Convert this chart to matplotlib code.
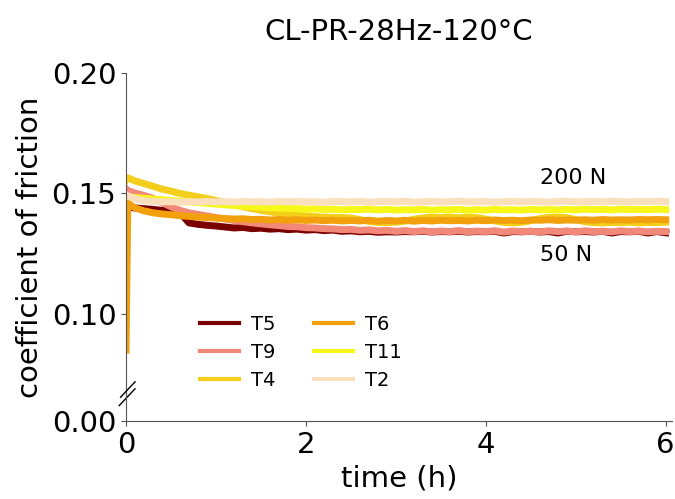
import matplotlib
matplotlib.use('Agg')
import matplotlib.pyplot as plt
from matplotlib.ticker import FormatStrFormatter

# time axis (hours), same for all runs
time_h = [0.0, 0.02, 0.1, 0.2, 0.3, 0.4, 0.5, 0.6, 0.7, 0.8,
          0.9, 1.0, 1.1, 1.2, 1.3, 1.4, 1.5, 1.6, 1.7, 1.8,
          1.9, 2.0, 2.1, 2.2, 2.3, 2.4, 2.5, 2.6, 2.7, 2.8,
          2.9, 3.0, 3.1, 3.2, 3.3, 3.4, 3.5, 3.6, 3.7, 3.8,
          3.9, 4.0, 4.1, 4.2, 4.3, 4.4, 4.5, 4.6, 4.7, 4.8,
          4.9, 5.0, 5.1, 5.2, 5.3, 5.4, 5.5, 5.6, 5.7, 5.8,
          5.9, 6.0]

cof_T5 = [0.1445, 0.1443, 0.1440, 0.1437, 0.1434, 0.1430, 0.1427, 0.1420, 0.1378, 0.1372,
          0.1368, 0.1365, 0.1361, 0.1357, 0.1359, 0.1354, 0.1356, 0.1352, 0.1354, 0.1350,
          0.1352, 0.1348, 0.1350, 0.1346, 0.1348, 0.1343, 0.1345, 0.1341, 0.1343, 0.1339,
          0.1341, 0.1340, 0.1342, 0.1341, 0.1343, 0.1340, 0.1342, 0.1341, 0.1343, 0.1340,
          0.1342, 0.1341, 0.1343, 0.1336, 0.1342, 0.1341, 0.1343, 0.1340, 0.1342, 0.1336,
          0.1343, 0.1341, 0.1342, 0.1340, 0.1343, 0.1336, 0.1342, 0.1341, 0.1343, 0.1336,
          0.1342, 0.1337]

cof_T9 = [0.1520, 0.1512, 0.1502, 0.1492, 0.1480, 0.1462, 0.1445, 0.1430, 0.1420, 0.1413,
          0.1407, 0.1400, 0.1394, 0.1388, 0.1383, 0.1378, 0.1374, 0.1370, 0.1367, 0.1363,
          0.1362, 0.1358, 0.1357, 0.1354, 0.1353, 0.1350, 0.1351, 0.1347, 0.1349, 0.1345,
          0.1347, 0.1343, 0.1346, 0.1342, 0.1345, 0.1341, 0.1344, 0.1342, 0.1346, 0.1341,
          0.1344, 0.1342, 0.1345, 0.1340, 0.1344, 0.1342, 0.1343, 0.1341, 0.1345, 0.1342,
          0.1344, 0.1341, 0.1345, 0.1342, 0.1343, 0.1341, 0.1345, 0.1342, 0.1344, 0.1341,
          0.1343, 0.1342]

cof_T4 = [0.1555, 0.1565, 0.1552, 0.1541, 0.1530, 0.1518, 0.1510, 0.1500, 0.1493, 0.1486,
          0.1479, 0.1471, 0.1462, 0.1453, 0.1445, 0.1437, 0.1430, 0.1424, 0.1418, 0.1414,
          0.1410, 0.1407, 0.1404, 0.1402, 0.1401, 0.1400, 0.1398, 0.1392, 0.1384, 0.1380,
          0.1379, 0.1381, 0.1385, 0.1393, 0.1399, 0.1401, 0.1400, 0.1402, 0.1399, 0.1401,
          0.1400, 0.1394, 0.1386, 0.1380, 0.1378, 0.1380, 0.1387, 0.1396, 0.1401, 0.1402,
          0.1400, 0.1392, 0.1383, 0.1379, 0.1378, 0.1380, 0.1379, 0.1381, 0.1378, 0.1380,
          0.1379, 0.1381]

cof_T6 = [0.0850, 0.1460, 0.1440, 0.1428, 0.1420, 0.1415, 0.1412, 0.1408, 0.1405, 0.1402,
          0.1400, 0.1398, 0.1396, 0.1394, 0.1395, 0.1392, 0.1393, 0.1390, 0.1392, 0.1389,
          0.1391, 0.1388, 0.1390, 0.1387, 0.1389, 0.1386, 0.1388, 0.1386, 0.1389, 0.1385,
          0.1388, 0.1386, 0.1389, 0.1385, 0.1388, 0.1386, 0.1389, 0.1387, 0.1388, 0.1386,
          0.1389, 0.1387, 0.1390, 0.1388, 0.1389, 0.1387, 0.1390, 0.1389, 0.1391, 0.1388,
          0.1390, 0.1389, 0.1391, 0.1389, 0.1392, 0.1390, 0.1391, 0.1390, 0.1392, 0.1391,
          0.1392, 0.1391]

cof_T11 = [0.1490, 0.1487, 0.1483, 0.1480, 0.1477, 0.1474, 0.1471, 0.1468, 0.1465, 0.1462,
           0.1459, 0.1456, 0.1453, 0.1450, 0.1448, 0.1445, 0.1443, 0.1441, 0.1440, 0.1438,
           0.1437, 0.1435, 0.1436, 0.1434, 0.1435, 0.1432, 0.1434, 0.1433, 0.1435, 0.1432,
           0.1434, 0.1431, 0.1433, 0.1432, 0.1434, 0.1431, 0.1433, 0.1432, 0.1434, 0.1430,
           0.1433, 0.1431, 0.1434, 0.1432, 0.1433, 0.1431, 0.1434, 0.1432, 0.1433, 0.1432,
           0.1434, 0.1432, 0.1435, 0.1433, 0.1434, 0.1432, 0.1435, 0.1433, 0.1434, 0.1433,
           0.1435, 0.1433]

cof_T2 = [0.1495, 0.1490, 0.1478, 0.1470, 0.1467, 0.1465, 0.1466, 0.1464, 0.1466, 0.1465,
          0.1467, 0.1465, 0.1466, 0.1464, 0.1467, 0.1465, 0.1466, 0.1464, 0.1467, 0.1465,
          0.1468, 0.1465, 0.1466, 0.1463, 0.1467, 0.1466, 0.1465, 0.1467, 0.1464, 0.1466,
          0.1467, 0.1465, 0.1468, 0.1464, 0.1466, 0.1467, 0.1465, 0.1466, 0.1468, 0.1465,
          0.1466, 0.1467, 0.1464, 0.1466, 0.1468, 0.1465, 0.1467, 0.1466, 0.1464, 0.1467,
          0.1468, 0.1465, 0.1466, 0.1467, 0.1465, 0.1468, 0.1466, 0.1465, 0.1467, 0.1466,
          0.1468, 0.1466]

names = ['T5', 'T9', 'T4', 'T6', 'T11', 'T2']
series = [cof_T5, cof_T9, cof_T4, cof_T6, cof_T11, cof_T2]
colors = ['#7a0000', '#f28878', '#f3cf1c', '#f2a00c', '#f7f71a', '#f9dfbb']

spine_col = '#555555'

fig = plt.figure(figsize=(6.75, 4.99), dpi=100)
ax = fig.add_axes([0.1867, 0.2124, 0.8089, 0.6413])
ax0 = fig.add_axes([0.1867, 0.1563, 0.8089, 0.0561], sharex=ax)

for name, vals, col in zip(names, series, colors):
    ax.plot(time_h, vals, color=col, lw=5, label=name)

# upper part of the broken axis
ax.set_xlim(0, 6.07)
ax.set_ylim(0.0672, 0.20)
ax.set_yticks([0.10, 0.15, 0.20])
ax.yaxis.set_major_formatter(FormatStrFormatter('%.2f'))
for s in ['top', 'right', 'bottom']:
    ax.spines[s].set_visible(False)
ax.spines['left'].set_color(spine_col)
ax.tick_params(axis='x', bottom=False, labelbottom=False)
ax.tick_params(axis='y', labelsize=21, color=spine_col)

# lower part with just 0.00
ax0.set_ylim(0, 0.0116)
ax0.set_yticks([0.0])
ax0.yaxis.set_major_formatter(FormatStrFormatter('%.2f'))
ax0.set_xticks([0, 2, 4, 6])
for s in ['top', 'right']:
    ax0.spines[s].set_visible(False)
ax0.spines['left'].set_color(spine_col)
ax0.spines['bottom'].set_color(spine_col)
ax0.tick_params(labelsize=21, color=spine_col)
ax0.set_xlabel('time (h)', fontsize=21)

# break marks
ax0.plot([-0.0125, 0.0165], [0.55, 1.15], color='k', lw=1, transform=ax0.transAxes, clip_on=False)
ax0.plot([-0.0100, 0.0165], [0.85, 1.40], color='k', lw=1, transform=ax0.transAxes, clip_on=False)

ax.set_title('CL-PR-28Hz-120°C', fontsize=21, pad=24)
fig.text(0.044, 1 - 247 / 499, 'coefficient of friction', rotation=90,
         ha='center', va='center', fontsize=21)

ax.text(4.6, 0.1565, '200 N', fontsize=16, va='center')
ax.text(4.6, 0.1245, '50 N', fontsize=16, va='center')

leg = ax.legend(ncol=2, frameon=False, fontsize=14, loc='center',
                bbox_to_anchor=(0.446, 0.2935), bbox_transform=fig.transFigure,
                handlelength=2.0, handletextpad=0.6, columnspacing=2.0, labelspacing=0.45)
for h in leg.legend_handles:
    h.set_linewidth(3)

fig.savefig('out.png', dpi=100)
